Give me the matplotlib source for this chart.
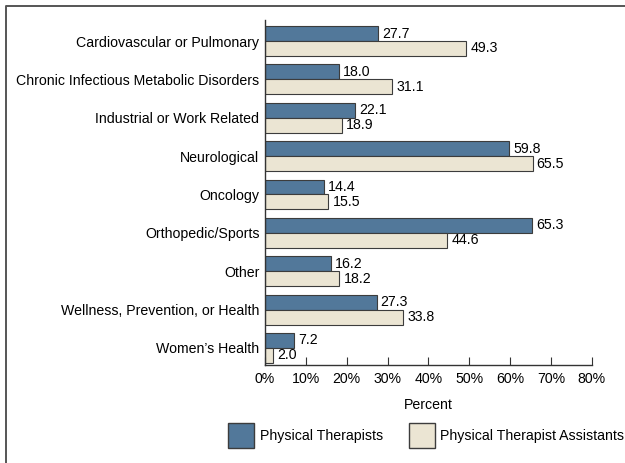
import numpy as np
import matplotlib
matplotlib.use('Agg')
import matplotlib.pyplot as plt
from matplotlib.patches import Rectangle
from matplotlib.lines import Line2D

plt.rcParams['font.family'] = ['Liberation Sans', 'DejaVu Sans']

categories = ['Cardiovascular or Pulmonary', 'Chronic Infectious Metabolic Disorders',
              'Industrial or Work Related', 'Neurological', 'Oncology',
              'Orthopedic/Sports', 'Other', 'Wellness, Prevention, or Health',
              "Women\u2019s Health"]
pt = [27.7, 18.0, 22.1, 59.8, 14.4, 65.3, 16.2, 27.3, 7.2]
pta = [49.3, 31.1, 18.9, 65.5, 15.5, 44.6, 18.2, 33.8, 2.0]
xticks = [0, 10, 20, 30, 40, 50, 60, 70, 80]
series = ['Physical Therapists', 'Physical Therapist Assistants']

blue = '#52789a'
beige = '#ebe5d3'
edge = '#3c3c3c'
fs = 10.2

fig = plt.figure(figsize=(6.25, 4.63), dpi=100)
ax = fig.add_axes([0.424, 0.212, 0.523, 0.745])

y = np.arange(len(categories))
h = 0.39
ax.barh(y - h/2, pt, height=h, color=blue, edgecolor=edge, linewidth=0.8)
ax.barh(y + h/2, pta, height=h, color=beige, edgecolor=edge, linewidth=0.8)
for i in range(len(categories)):
    ax.text(pt[i] + 1.0, y[i] - h/2, f'{pt[i]:.1f}', va='center', ha='left', fontsize=fs)
    ax.text(pta[i] + 1.0, y[i] + h/2, f'{pta[i]:.1f}', va='center', ha='left', fontsize=fs)

ax.set_ylim(8.44, -0.55)
ax.set_xlim(0, 80)
ax.set_yticks(y)
ax.set_yticklabels(categories, fontsize=fs)
ax.set_xticks(xticks)
ax.set_xticklabels([f'{t}%' for t in xticks], fontsize=fs)
ax.tick_params(axis='y', length=0, pad=4)
ax.tick_params(axis='x', direction='in', length=6, color='#333333', pad=5)
ax.set_xlabel('Percent', fontsize=fs, labelpad=9)
for s in ['top', 'right']:
    ax.spines[s].set_visible(False)
for s in ['left', 'bottom']:
    ax.spines[s].set_color('#333333')
    ax.spines[s].set_linewidth(1.0)

# legend drawn by hand to match the big square keys
W, H = 625.0, 463.0
for x0, tx, col, lab in [(228, 260, blue, series[0]), (409, 440, beige, series[1])]:
    fig.patches.append(Rectangle((x0 / W, 1 - 448 / H), 26 / W, 25 / H, transform=fig.transFigure,
                                 facecolor=col, edgecolor=edge, linewidth=1.0))
    fig.text(tx / W, 1 - 436 / H, lab, fontsize=fs, va='center', ha='left')

# frame: only left and top edges visible in the reference
fig.lines.append(Line2D([5.5 / W, 5.5 / W, 1.0], [0.0, 1 - 5.5 / H, 1 - 5.5 / H],
                        transform=fig.transFigure, color='#555555', linewidth=1.4))

fig.savefig('out.png', dpi=100)
